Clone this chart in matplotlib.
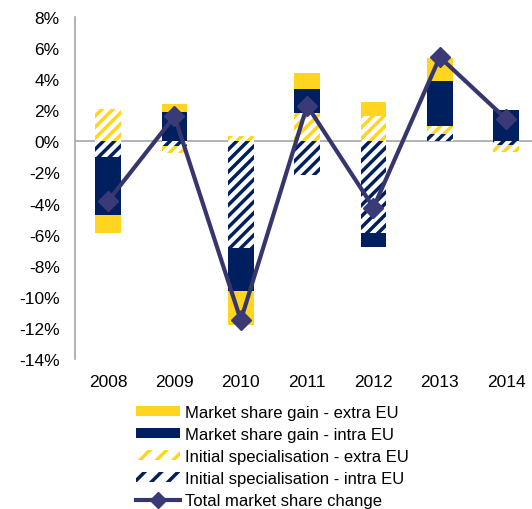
import numpy as np
import matplotlib.pyplot as plt
from matplotlib.lines import Line2D
from matplotlib.patches import Patch

plt.rcParams['font.family'] = ['Liberation Sans', 'DejaVu Sans']
plt.rcParams['hatch.linewidth'] = 2.5

# dados (% por ano)
years = ['2008', '2009', '2010', '2011', '2012', '2013', '2014']
init_intra = [-1.0, -0.28, -6.85, -2.15, -5.87, 0.47, -0.22]
init_extra = [2.1, -0.47, 0.32, 1.83, 1.61, 0.53, -0.45]
gain_intra = [-3.75, 1.87, -2.79, 1.54, -0.93, 2.91, 2.02]
gain_extra = [-1.17, 0.53, -2.2, 1.03, 0.94, 1.44, 0.0]
total = [-3.83, 1.61, -11.5, 2.3, -4.26, 5.42, 1.44]

yellow = '#FFD520'
navy = '#001F5F'
line_col = '#36366F'
gray = '#A6A6A6'

fig = plt.figure(figsize=(5.32, 5.10), dpi=100)
ax = fig.add_axes([75 / 532, 1 - 360 / 510, 1 - 75 / 532, 342 / 510])

x = np.arange(len(years))
w = 0.39
pos_base = np.zeros(len(years))
neg_base = np.zeros(len(years))

series = [
    (init_intra, dict(facecolor='white', edgecolor=navy, hatch='///', linewidth=0)),
    (init_extra, dict(facecolor='white', edgecolor=yellow, hatch='///', linewidth=0)),
    (gain_intra, dict(color=navy, linewidth=0)),
    (gain_extra, dict(color=yellow, linewidth=0)),
]
for vals, style in series:
    vals = np.array(vals)
    bottoms = np.where(vals >= 0, pos_base, neg_base)
    ax.bar(x, vals, w, bottom=bottoms, zorder=2, **style)
    pos_base += np.where(vals >= 0, vals, 0)
    neg_base += np.where(vals < 0, vals, 0)

ax.axhline(0, color=gray, lw=1.2, zorder=1)
ax.plot(x, total, color=line_col, lw=3, marker='D', markersize=10,
        markerfacecolor='#3A3A78', markeredgecolor='#3A3A78', zorder=3)

ax.set_xlim(-0.5, 6.39)
ax.set_ylim(-14, 8)
ax.set_yticks(np.arange(-14, 9, 2))
ax.set_yticklabels([f'{v}%' for v in range(-14, 9, 2)])
ax.set_xticks(x)
ax.set_xticklabels(years)
ax.tick_params(axis='y', length=0, pad=11, labelsize=12.5)
ax.tick_params(axis='x', length=0, pad=11, labelsize=12.5)
for s in ['top', 'right', 'bottom']:
    ax.spines[s].set_visible(False)
ax.spines['left'].set_color(gray)
ax.spines['left'].set_linewidth(1.2)

handles = [
    Patch(color=yellow, linewidth=0),
    Patch(color=navy, linewidth=0),
    Patch(facecolor='white', edgecolor=yellow, hatch='//', linewidth=0),
    Patch(facecolor='white', edgecolor=navy, hatch='//', linewidth=0),
    Line2D([], [], color=line_col, lw=3, marker='D', markersize=8,
           markerfacecolor='#3A3A78', markeredgecolor='#3A3A78'),
]
labels = ['Market share gain - extra EU', 'Market share gain - intra EU',
          'Initial specialisation - extra EU', 'Initial specialisation - intra EU',
          'Total market share change']
fig.legend(handles, labels, loc='upper left', bbox_to_anchor=(136 / 532, 1 - 406 / 510),
           frameon=False, fontsize=12, borderpad=0, borderaxespad=0,
           handlelength=2.65, handleheight=0.55, handletextpad=0.3, labelspacing=0.42)

fig.savefig('out.png', dpi=100)
